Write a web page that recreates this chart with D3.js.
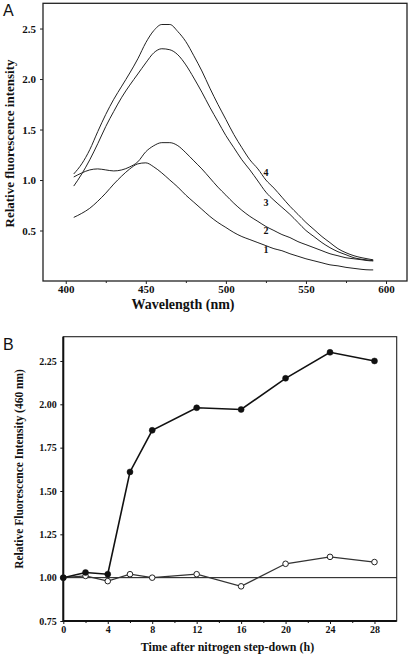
<!DOCTYPE html>
<html><head><meta charset="utf-8">
<script src="https://cdn.jsdelivr.net/npm/d3@7"></script>
<style>
html,body{margin:0;padding:0;background:#fff;}
svg{display:block;}
</style></head>
<body>
<svg id="c" width="410" height="655"></svg>
<script>
// ---- Panel A data ----
const wavelengths = [405,410,415,420,425,430,435,440,445,450,455,460,465,470,475,480,485,490,495,500,505,510,515,520,525,530,535,540,545,550,555,560,565,570,575,580,585,590,592];
const spectrum1 = [0.63,0.67,0.72,0.79,0.87,0.96,1.04,1.11,1.16,1.17,1.13,1.07,1.00,0.93,0.85,0.78,0.71,0.64,0.58,0.53,0.48,0.44,0.41,0.38,0.35,0.32,0.30,0.27,0.245,0.22,0.20,0.18,0.16,0.15,0.135,0.125,0.115,0.11,0.11];
const spectrum2 = [1.03,1.07,1.10,1.11,1.10,1.09,1.10,1.13,1.18,1.28,1.34,1.37,1.37,1.34,1.27,1.19,1.11,1.02,0.93,0.85,0.77,0.70,0.64,0.59,0.54,0.50,0.46,0.43,0.39,0.36,0.33,0.30,0.27,0.25,0.23,0.22,0.21,0.20,0.20];
const spectrum3 = [0.94,1.06,1.20,1.36,1.53,1.68,1.82,1.94,2.05,2.16,2.26,2.30,2.29,2.24,2.14,2.01,1.87,1.72,1.58,1.44,1.32,1.20,1.10,0.99,0.88,0.80,0.73,0.66,0.58,0.50,0.44,0.38,0.33,0.29,0.26,0.23,0.215,0.205,0.20];
const spectrum4 = [1.06,1.16,1.30,1.48,1.65,1.80,1.93,2.06,2.20,2.36,2.48,2.54,2.54,2.47,2.37,2.23,2.08,1.91,1.75,1.60,1.45,1.32,1.20,1.11,1.00,0.92,0.83,0.74,0.66,0.58,0.51,0.44,0.38,0.32,0.28,0.25,0.23,0.215,0.21];
const curveLabels = ["1","2","3","4"];
const curveLabelNm = [525,525,525,525];
const curveLabelVal = [0.31,0.50,0.78,1.07];
const xTicksA = [400,450,500,550,600];
const xMinorA = [425,475,525,575];
const yTicksA = [0.5,1.0,1.5,2.0,2.5];

// ---- Panel B data ----
const hours = [0,2,4,6,8,12,16,20,24,28];
const filledSeries = [1.00,1.03,1.02,1.61,1.85,1.98,1.97,2.15,2.30,2.25];
const openSeries = [1.00,1.01,0.98,1.02,1.00,1.02,0.95,1.08,1.12,1.09];
const xTicksB = [0,4,8,12,16,20,24,28];
const xMinorB = [2,6,10,14,18,22,26];
const yTicksB = [0.75,1.00,1.25,1.50,1.75,2.00,2.25];

const svg = d3.select("#c");
const serif = "'Liberation Serif','Times New Roman',serif";
const sans = "'Liberation Sans',Arial,sans-serif";

// ===== Panel A =====
const xA = d3.scaleLinear().domain([385.8, 613.1]).range([43, 407]);
const yA = d3.scaleLinear().domain([0, 2.75]).range([281, 3.3]);
const gA = svg.append("g");

gA.append("rect").attr("x",43).attr("y",3.3).attr("width",364).attr("height",277.7)
  .attr("fill","none").attr("stroke","#222").attr("stroke-width",1.3);

const axA = gA.append("g").attr("transform","translate(0,281)")
  .call(d3.axisBottom(xA).tickValues(xTicksA).tickSize(3).tickFormat(d3.format("d")));
gA.append("g").attr("transform","translate(0,281)")
  .call(d3.axisBottom(xA).tickValues(xMinorA).tickSize(2).tickFormat(""))
  .call(g=>g.select(".domain").remove());
const ayA = gA.append("g").attr("transform","translate(43,0)")
  .call(d3.axisLeft(yA).tickValues(yTicksA).tickSize(3).tickFormat(d3.format(".1f")));
[axA, ayA].forEach(a=>{
  a.attr("font-family",serif).attr("font-size",11);
  a.select(".domain").remove();
  a.selectAll("text").attr("font-family",serif).attr("font-weight","bold").attr("font-size",11).attr("fill","#111");
});
axA.selectAll("text").attr("dy","0.5em");
ayA.selectAll("text").attr("dx","-1px");
gA.selectAll(".tick line").attr("stroke","#222");

const lineA = d3.line().x((d,i)=>xA(wavelengths[i])).y(d=>yA(d)).curve(d3.curveMonotoneX);
[spectrum1,spectrum2,spectrum3,spectrum4].forEach(s=>{
  gA.append("path").datum(s).attr("d",lineA).attr("fill","none").attr("stroke","#222").attr("stroke-width",1);
});
curveLabels.forEach((t,i)=>{
  gA.append("text").attr("x",xA(curveLabelNm[i])).attr("y",yA(curveLabelVal[i]))
    .attr("text-anchor","middle").attr("dominant-baseline","central")
    .attr("font-family",serif).attr("font-weight","bold").attr("font-size",10).attr("fill","#111").text(t);
});
gA.append("text").attr("x",183).attr("y",309).attr("text-anchor","middle")
  .attr("font-family",serif).attr("font-weight","bold").attr("font-size",14).attr("fill","#111")
  .text("Wavelength (nm)");
gA.append("text").attr("transform","translate(13.5,143.5) rotate(-90)").attr("text-anchor","middle")
  .attr("font-family",serif).attr("font-weight","bold").attr("font-size",13).attr("fill","#111")
  .text("Relative fluorescence intensity");
svg.append("text").attr("x",3).attr("y",16).attr("font-family",sans).attr("font-size",16).attr("fill","#111").text("A");

// ===== Panel B =====
const xB = d3.scaleLinear().domain([0,30]).range([63.3, 396.7]);
const yB = d3.scaleLinear().domain([0.75, 2.39]).range([621, 336.7]);
const gB = svg.append("g");

gB.append("rect").attr("x",63.3).attr("y",336.7).attr("width",333.4).attr("height",284.3)
  .attr("fill","none").attr("stroke","#222").attr("stroke-width",1.1);
gB.append("line").attr("x1",63.3).attr("x2",63.3).attr("y1",336.7).attr("y2",621).attr("stroke","#111").attr("stroke-width",2);
gB.append("line").attr("x1",63.3).attr("x2",396.7).attr("y1",621).attr("y2",621).attr("stroke","#111").attr("stroke-width",2);

const axB = gB.append("g").attr("transform","translate(0,621)")
  .call(d3.axisBottom(xB).tickValues(xTicksB).tickSize(3).tickFormat(d3.format("d")));
gB.append("g").attr("transform","translate(0,621)")
  .call(d3.axisBottom(xB).tickValues(xMinorB).tickSize(2).tickFormat(""))
  .call(g=>g.select(".domain").remove());
const ayB = gB.append("g").attr("transform","translate(63.3,0)")
  .call(d3.axisLeft(yB).tickValues(yTicksB).tickSize(3).tickFormat(d3.format(".2f")));
[axB, ayB].forEach(a=>{
  a.attr("font-family",serif).attr("font-size",10);
  a.select(".domain").remove();
  a.selectAll("text").attr("font-family",serif).attr("font-weight","bold").attr("font-size",10).attr("fill","#111");
});
axB.selectAll("text").attr("dy","0.6em");
ayB.selectAll("text").attr("dx","-0.5px");
gB.selectAll(".tick line").attr("stroke","#111");

// reference line at 1.00
gB.append("line").attr("x1",xB(0)).attr("x2",xB(30)).attr("y1",yB(1)).attr("y2",yB(1))
  .attr("stroke","#111").attr("stroke-width",1);

const lineB = d3.line().x((d,i)=>xB(hours[i])).y(d=>yB(d));
gB.append("path").datum(openSeries).attr("d",lineB).attr("fill","none").attr("stroke","#333").attr("stroke-width",1.2);
gB.append("path").datum(filledSeries).attr("d",lineB).attr("fill","none").attr("stroke","#111").attr("stroke-width",1.6);
gB.selectAll(".openPt").data(openSeries).join("circle")
  .attr("cx",(d,i)=>xB(hours[i])).attr("cy",d=>yB(d)).attr("r",2.8)
  .attr("fill","#fff").attr("stroke","#222").attr("stroke-width",1);
gB.selectAll(".fillPt").data(filledSeries).join("circle")
  .attr("cx",(d,i)=>xB(hours[i])).attr("cy",d=>yB(d)).attr("r",3)
  .attr("fill","#111").attr("stroke","#111").attr("stroke-width",0.5);

gB.append("text").attr("x",227.5).attr("y",651).attr("text-anchor","middle")
  .attr("font-family",serif).attr("font-weight","bold").attr("font-size",12).attr("fill","#111")
  .text("Time after nitrogen step-down (h)");
gB.append("text").attr("transform","translate(22.5,469) rotate(-90)").attr("text-anchor","middle")
  .attr("font-family",serif).attr("font-weight","bold").attr("font-size",11.5).attr("fill","#111")
  .text("Relative Fluorescence Intensity (460 nm)");
svg.append("text").attr("x",3).attr("y",350).attr("font-family",sans).attr("font-size",16).attr("fill","#111").text("B");
</script>
</body></html>
